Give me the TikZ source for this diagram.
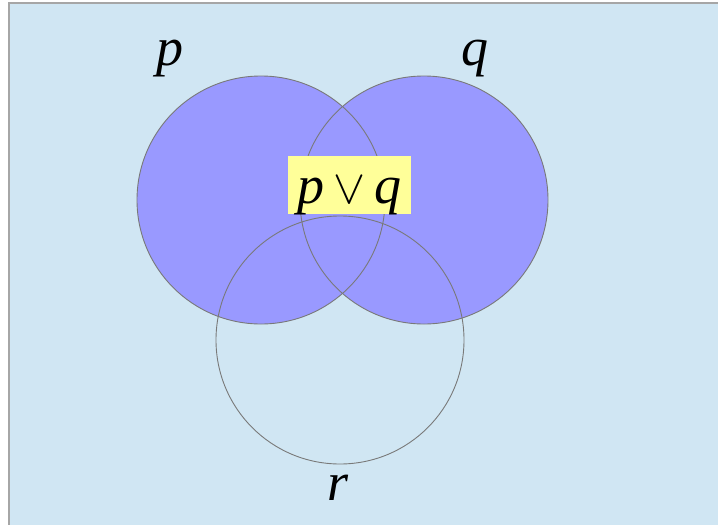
\documentclass[tikz,border=0pt]{standalone}
\usepackage{graphicx}
\usepackage{fontspec}
\setmainfont{Liberation Serif}
\begin{document}
\begin{tikzpicture}[x=1pt,y=-1pt,
  setcircle/.style={draw=gray!95!black,line width=0.9pt},
  setfill/.style={fill=purpfill},
  lbl/.style={inner sep=0pt,font=\fontsize{54}{64}\selectfont\itshape}]
\definecolor{bgblue}{HTML}{D0E6F3}
\definecolor{purpfill}{HTML}{9999FF}
\definecolor{ylw}{HTML}{FFFF99}
\useasboundingbox (0,0) rectangle (718,525);
\begin{scope}
\clip (0,0) rectangle (718,525);
\draw[fill=bgblue,draw=gray!70,line width=1.2pt] (9,3) rectangle (730,540);
\end{scope}
\coordinate (cp) at (261,200);
\coordinate (cq) at (424,200);
\coordinate (cr) at (340,340);
\fill[setfill] (cp) circle (124);
\fill[setfill] (cq) circle (124);
\draw[setcircle] (cp) circle (124);
\draw[setcircle] (cq) circle (124);
\draw[setcircle] (cr) circle (124);
\node[fill=ylw,minimum width=123,minimum height=58,inner sep=0pt] (pq) at (349.5,185) {};
\node[lbl,anchor=base] (pqt) at (349.5,203) {p\,{\normalsize\resizebox{32pt}{!}{$\vee$}}\,q};
\node[lbl,anchor=base] (lp) at (170,65) {p};
\node[lbl,anchor=base] (lq) at (475,65) {q};
\node[lbl,anchor=base] (lr) at (338,500) {r};
\end{tikzpicture}
\end{document}
